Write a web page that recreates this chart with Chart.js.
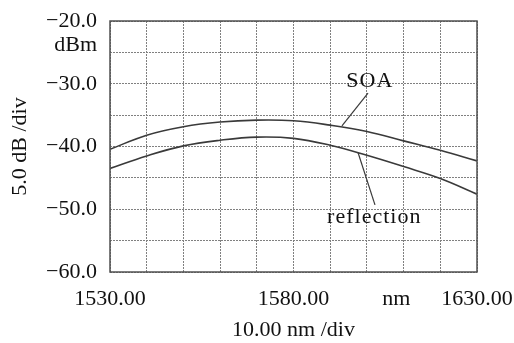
<!DOCTYPE html>
<html>
<head>
<meta charset="utf-8">
<script src="https://cdn.jsdelivr.net/npm/chart.js@4.4.0/dist/chart.umd.min.js"></script>
<style>
  html, body { margin: 0; padding: 0; background: #fff; }
  #wrap { width: 514px; height: 343px; }
</style>
</head>
<body>
<div id="wrap"><canvas id="spec"></canvas></div>
<script>
// Wavelength samples (nm) and power readings (dBm)
const wavelengths = [1530, 1540, 1550, 1560, 1570, 1580, 1590, 1600, 1610, 1620, 1630];
const soaPower    = [-40.45, -38.2, -36.85, -36.1, -35.8, -35.9, -36.6, -37.6, -39.1, -40.6, -42.3];
const reflPower   = [-43.5, -41.5, -39.9, -39.0, -38.5, -38.7, -39.8, -41.4, -43.2, -45.1, -47.6];

// Axis ranges and labelled ticks
const xMin = 1530, xMax = 1630, xStep = 10;
const yMin = -60, yMax = -20, yStep = 5;
const xLabelled = [1530, 1580, 1630];
const yLabelled = [-20, -30, -40, -50, -60];

// Leader lines from the curve names to the traces (data units)
const soaLeaderX  = [1600.3, 1593.2];
const soaLeaderY  = [-31.5, -36.7];
const reflLeaderX = [1597.6, 1602.2];
const reflLeaderY = [-41.0, -49.3];

// Text annotations placed in data units
const curveNames = ['SOA', 'reflection'];
const curveNameX = [1600.8, 1602.0];
const curveNameY = [-29.6, -51.2];

const FONT = '"Liberation Serif", "Times New Roman", serif';
const INK = '#111';
const TRACE = '#3a3a3a';

function minus(s) { return s.replace('-', '\u2212'); }

function toPoints(xs, ys) {
    let pts = [];
    for (let i = 0; i < xs.length; i++) pts.push({ x: xs[i], y: ys[i] });
    return pts;
}

// Frame + loose text (curve names, units)
const decor = {
    id: 'decor',
    afterDraw(chart) {
        const ctx = chart.ctx;
        const a = chart.chartArea;
        const xs = chart.scales.x, ys = chart.scales.y;
        ctx.save();
        ctx.strokeStyle = '#505050';
        ctx.lineWidth = 1.5;
        ctx.setLineDash([]);
        ctx.strokeRect(a.left, a.top, a.right - a.left, a.bottom - a.top);

        ctx.fillStyle = INK;
        ctx.font = '22px ' + FONT;
        ctx.textBaseline = 'middle';
        ctx.textAlign = 'center';
        ctx.letterSpacing = '1px';
        for (let i = 0; i < curveNames.length; i++) {
            ctx.fillText(curveNames[i], xs.getPixelForValue(curveNameX[i]), ys.getPixelForValue(curveNameY[i]));
        }
        ctx.letterSpacing = '0px';
        // unit labels
        ctx.textAlign = 'right';
        ctx.fillText('dBm', a.left - 13, ys.getPixelForValue(-23.8));
        ctx.textAlign = 'center';
        ctx.fillText('nm', xs.getPixelForValue(1608), a.bottom + 27);
        ctx.restore();
    }
};

const lineStyle = { borderColor: TRACE, borderWidth: 1.6, pointRadius: 0, fill: false };

new Chart(document.getElementById('spec'), {
    type: 'line',
    data: {
        datasets: [
            Object.assign({ label: 'SOA', data: toPoints(wavelengths, soaPower), tension: 0.4 }, lineStyle),
            Object.assign({ label: 'reflection', data: toPoints(wavelengths, reflPower), tension: 0.4 }, lineStyle),
            Object.assign({ label: 'soa-leader', data: toPoints(soaLeaderX, soaLeaderY), tension: 0 }, lineStyle, { borderWidth: 1.2 }),
            Object.assign({ label: 'refl-leader', data: toPoints(reflLeaderX, reflLeaderY), tension: 0 }, lineStyle, { borderWidth: 1.2 })
        ]
    },
    options: {
        responsive: true,
        maintainAspectRatio: false,
        animation: false,
        devicePixelRatio: 1,
        layout: { padding: { left: 0, top: 21, right: 37, bottom: 0 } },
        plugins: { legend: { display: false }, tooltip: { enabled: false } },
        scales: {
            x: {
                type: 'linear',
                min: xMin, max: xMax,
                // pin the plot box: ignore label overhang
                afterFit(s) { s.height = 71; s.paddingLeft = 0; s.paddingRight = 0; },
                grid: { color: '#808080', lineWidth: 1, drawTicks: false },
                border: { display: false, dash: [2, 1] },
                ticks: {
                    stepSize: xStep, autoSkip: false, maxRotation: 0, padding: 14,
                    color: INK, font: { family: FONT, size: 22 },
                    callback: function(v) { return xLabelled.indexOf(v) >= 0 ? v.toFixed(2) : ''; }
                },
                title: {
                    display: true, text: '10.00 nm /div', color: INK,
                    font: { family: FONT, size: 22 }, padding: { top: 0, bottom: 0 }
                }
            },
            y: {
                min: yMin, max: yMax,
                afterFit(s) { s.width = 110; s.paddingTop = 0; s.paddingBottom = 0; },
                grid: { color: '#808080', lineWidth: 1, drawTicks: false },
                border: { display: false, dash: [2, 1] },
                ticks: {
                    stepSize: yStep, autoSkip: false, padding: 13,
                    color: INK, font: { family: FONT, size: 22 },
                    callback: function(v) { return yLabelled.indexOf(v) >= 0 ? minus(v.toFixed(1)) : ''; }
                },
                title: {
                    display: true, text: '5.0 dB /div', color: INK,
                    font: { family: FONT, size: 22 }, padding: { top: 7, bottom: 0 }
                }
            }
        }
    },
    plugins: [decor]
});
</script>
</body>
</html>
